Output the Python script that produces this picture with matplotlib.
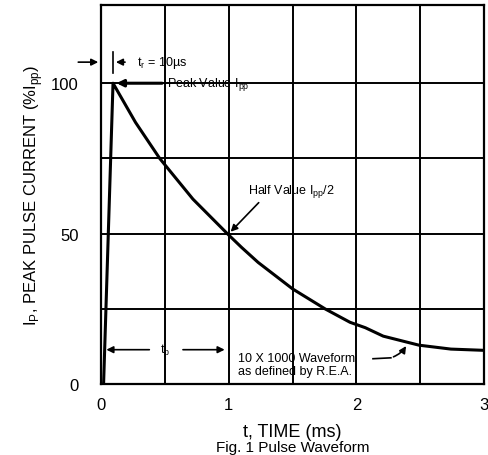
"""
Pulse waveform (10 x 1000 us) redrawn from a datasheet figure.
"""
import matplotlib.pyplot as plt

plt.rcParams['font.family'] = ['Liberation Sans', 'DejaVu Sans']

# curve: time in ms, current in % of Ipp
time_ms = [0.02, 0.094, 0.27, 0.46, 0.72, 0.99, 1.1, 1.23, 1.5, 1.757,
           1.95, 2.07, 2.21, 2.49, 2.74, 2.99]
current_pct = [0, 100, 87, 75, 61.5, 50, 45.5, 40.5, 31.7, 25,
               20.6, 18.8, 16, 13, 11.7, 11.3]

x_ticks = [0, 1, 2, 3]
y_ticks = [0, 50, 100]
x_grid = [0.5, 1, 1.5, 2, 2.5]
y_grid = [25, 50, 75, 100]

fig = plt.figure(figsize=(4.88, 4.56), dpi=100)
ax = fig.add_axes([0.207, 0.155, 0.785, 0.832])
ax.set_xlim(0, 3)
ax.set_ylim(0, 126)

for x in x_grid:
    ax.axvline(x, color='black', lw=1.4, zorder=1)
for y in y_grid:
    ax.axhline(y, color='black', lw=1.4, zorder=1)

ax.plot(time_ms, current_pct, color='black', lw=2.2, zorder=3,
        solid_joinstyle='round')

for s in ax.spines.values():
    s.set_linewidth(1.6)
ax.set_xticks(x_ticks)
ax.set_yticks(y_ticks)
ax.tick_params(length=0, labelsize=12)
ax.tick_params(axis='y', pad=16)
ax.tick_params(axis='x', pad=9)

ax.set_xlabel('t, TIME (ms)', fontsize=13, labelpad=8)
ax.set_ylabel(r'I$_\mathregular{P}$, PEAK PULSE CURRENT (%I$_\mathregular{pp}$)', fontsize=12, labelpad=4)
fig.text(0.6, 0.003, 'Fig. 1 Pulse Waveform', fontsize=11, ha='center', va='bottom')

arrow = dict(arrowstyle='-|>', color='black', lw=1.2, mutation_scale=10)

# rise time marker
ax.annotate('', xy=(0, 107), xytext=(-0.2, 107), xycoords='data',
            arrowprops=arrow, annotation_clip=False)
ax.plot([0.09, 0.09], [103.5, 110.5], color='black', lw=1.2)
ax.annotate('', xy=(0.095, 107), xytext=(0.21, 107), arrowprops=arrow)
ax.text(0.28, 107, r't$_\mathregular{r}$ = 10µs', fontsize=9, va='center')

# peak value
ax.annotate('', xy=(0.1, 100), xytext=(0.5, 100),
            arrowprops=dict(arrowstyle='-|>', color='black', lw=2.2, mutation_scale=10))
ax.text(0.52, 100, r'Peak Value I$_\mathregular{pp}$', fontsize=9, va='center')

# half value
ax.annotate('', xy=(1.0, 50), xytext=(1.25, 61), arrowprops=arrow)
ax.text(1.15, 64.5, r'Half Value I$_\mathregular{pp}$/2', fontsize=9, va='center')

# pulse duration
ax.annotate('', xy=(0.02, 11.5), xytext=(0.4, 11.5), arrowprops=arrow)
ax.annotate('', xy=(0.99, 11.5), xytext=(0.62, 11.5), arrowprops=arrow)
ax.text(0.5, 11.5, r't$_\mathregular{p}$', fontsize=9, va='center', ha='center')

# waveform note
ax.text(1.07, 6.5, '10 X 1000 Waveform\nas defined by R.E.A.', fontsize=9,
        va='center', linespacing=1.1)
ax.plot([2.13, 2.27], [8.5, 8.8], color='black', lw=1.2)
ax.annotate('', xy=(2.4, 13.5), xytext=(2.27, 8.8),
            arrowprops=dict(arrowstyle='-|>', color='black', lw=1.2, mutation_scale=10,
                            connectionstyle='arc3,rad=0.2'))

fig.savefig('out.png', dpi=100)
